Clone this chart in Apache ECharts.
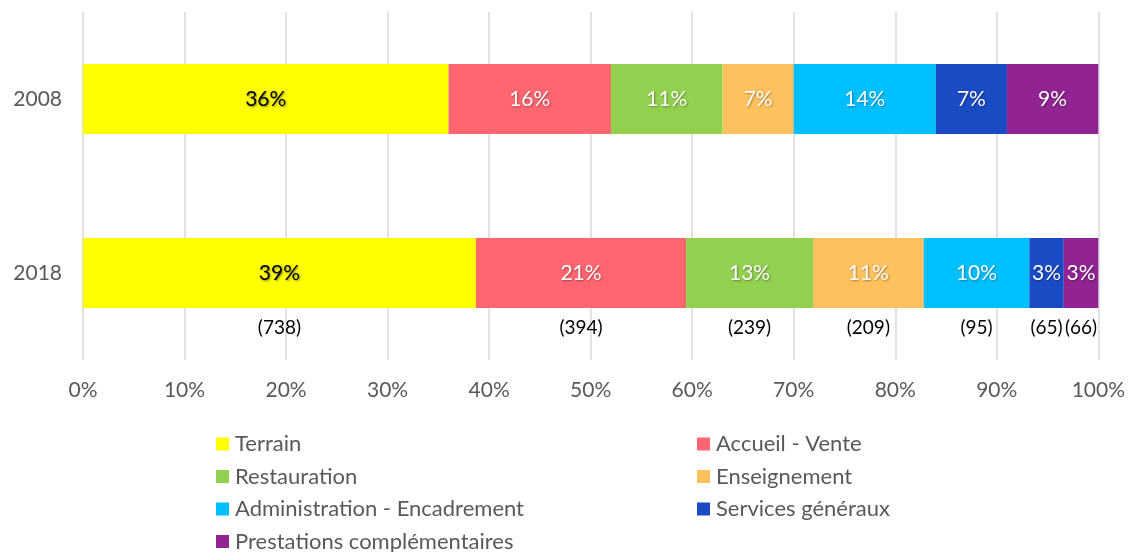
<!DOCTYPE html>
<html>
<head>
<meta charset="utf-8">
<script src="https://cdn.jsdelivr.net/npm/echarts@6/dist/echarts.min.js"></script>
<style>
  html, body { margin: 0; padding: 0; background: #fff; }
  #main { width: 1128px; height: 552px; }
</style>
</head>
<body>
<div id="main"></div>
<script>
    var myChart = echarts.init(document.getElementById('main'))

    // données
    var years = ['2008', '2018']
    var names = ['Terrain', 'Accueil - Vente', 'Restauration', 'Enseignement',
        'Administration - Encadrement', 'Services généraux', 'Prestations complémentaires']
    var colors = ['#FFFF00', '#FF6670', '#92D050', '#FFC15E', '#00BFFF', '#1A4BC4', '#912492']
    var pct2008 = [36, 16, 11, 7, 14, 7, 9]
    var pct2018 = [38.7, 20.7, 12.5, 10.9, 10.4, 3.4, 3.4]
    var counts2018 = [738, 394, 239, 209, 95, 65, 66]
    var xTicks = [0, 10, 20, 30, 40, 50, 60, 70, 80, 90, 100]

    var font = 'Lato, "Open Sans", sans-serif'

    var series = []
    names.forEach(function (n, i) {
        series.push({
            name: n,
            type: 'bar',
            stack: 'total',
            barWidth: 70,
            itemStyle: { color: colors[i] },
            label: {
                show: true,
                position: 'inside',
                fontFamily: font,
                fontSize: 21,
                color: i === 0 ? '#000' : '#fff',
                textShadowColor: i === 0 ? 'rgba(60,60,0,0.6)' : 'rgba(0,0,0,0.35)',
                textShadowBlur: 2,
                textShadowOffsetX: 1,
                textShadowOffsetY: 1,
                formatter: function (p) { return Math.round(p.value) + '%' }
            },
            data: [pct2008[i], pct2018[i]]
        })
        // étiquettes des effectifs sous la barre 2018
        series.push({
            name: n + '_n',
            type: 'bar',
            stack: 'counts',
            yAxisIndex: 1,
            barWidth: 70,
            silent: true,
            itemStyle: { color: 'transparent' },
            label: {
                show: true,
                position: 'bottom',
                distance: 10,
                fontFamily: font,
                fontSize: 19,
                color: '#000',
                formatter: function (p) { return p.dataIndex === 1 ? '(' + counts2018[i] + ')' : '' }
            },
            data: [pct2008[i], pct2018[i]]
        })
    })

    // légende sur deux colonnes : une légende par entrée
    var legends = names.map(function (n, i) {
        return {
            data: [n],
            left: i % 2 === 0 ? 216 : 697,
            top: 433 + Math.floor(i / 2) * 32.5,
            padding: 0,
            itemWidth: 13,
            itemHeight: 13,
            icon: 'rect',
            textStyle: { fontFamily: font, fontSize: 22, color: '#595959', padding: [0, 0, 0, 1] }
        }
    })

    var option = {
        animation: false,
        grid: { left: 83, right: 29, top: 12, bottom: 192 },
        legend: legends,
        xAxis: {
            type: 'value',
            min: xTicks[0],
            max: xTicks[xTicks.length - 1],
            interval: 10,
            axisLine: { show: false },
            axisTick: { show: false },
            splitLine: { lineStyle: { color: '#D9D9D9', width: 1.5 } },
            axisLabel: {
                margin: 20,
                fontFamily: font,
                fontSize: 21,
                color: '#595959',
                formatter: '{value}%'
            }
        },
        yAxis: [{
            type: 'category',
            inverse: true,
            data: years,
            axisLine: { show: false },
            axisTick: { show: false },
            axisLabel: { margin: 21, fontFamily: font, fontSize: 21, color: '#595959' }
        }, {
            type: 'category',
            inverse: true,
            data: years,
            show: false
        }],
        series: series
    }

    myChart.setOption(option)
</script>
</body>
</html>
